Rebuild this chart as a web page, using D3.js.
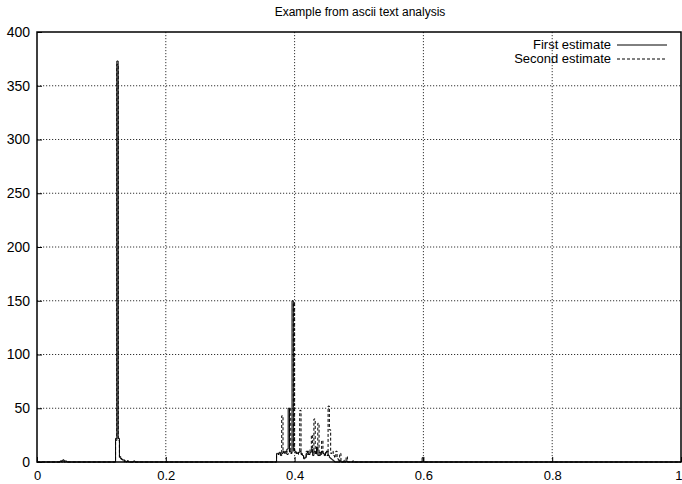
<!DOCTYPE html>
<html><head><meta charset="utf-8">
<script src="https://cdn.jsdelivr.net/npm/d3@7"></script>
<style>body{margin:0;background:#fff}svg{display:block}text{font-family:"Liberation Sans",Arial,sans-serif;fill:#000}</style>
</head><body><svg id="c" width="682" height="484"></svg>
<script>
const title = "Example from ascii text analysis";
const xTicks = [0, 0.2, 0.4, 0.6, 0.8, 1];
const xTickLabels = ["0", "0.2", "0.4", "0.6", "0.8", "1"];
const yTicks = [0, 50, 100, 150, 200, 250, 300, 350, 400];
const seriesNames = ["First estimate", "Second estimate"];
const binWidth = 0.002;
// bin left edges and counts
const firstX = [0.036,0.038,0.040,0.042,0.044,0.122,0.124,0.126,0.128,0.130,0.132,0.134,0.136,0.140,0.150,
  0.372,0.374,0.376,0.378,0.380,0.382,0.384,0.386,0.388,0.390,0.392,0.394,0.396,0.398,0.400,0.402,0.404,0.406,0.408,0.410,0.412,0.414,0.416,0.418,0.420,0.422,0.424,0.426,0.428,0.430,0.432,0.434,0.436,0.438,0.440,0.442,0.444,0.446,0.448,0.450,0.452,0.454,0.456,0.458,0.460,0.470,0.480,0.598];
const firstY = [1,1,2,1,1,22,373,22,5,3,2,2,1,1,1,
  8,8,9,7,8,10,9,8,12,50,10,9,150,12,10,9,8,9,10,7,6,3,4,8,10,7,9,12,6,10,8,14,6,9,7,10,8,6,9,10,6,4,3,2,1,1,1,4];
const secondX = [0.036,0.040,0.122,0.124,0.126,0.128,0.130,0.132,0.134,0.140,
  0.372,0.374,0.376,0.378,0.380,0.382,0.384,0.386,0.388,0.390,0.392,0.394,0.396,0.398,0.400,0.402,0.404,0.406,0.408,0.410,0.412,0.414,0.416,0.418,0.420,0.422,0.424,0.426,0.428,0.430,0.432,0.434,0.436,0.438,0.440,0.442,0.444,0.446,0.448,0.450,0.452,0.454,0.456,0.458,0.460,0.462,0.464,0.466,0.470,0.476,0.480,0.490];
const secondY = [1,1,20,370,20,4,3,2,1,1,
  6,7,8,6,43,9,8,10,7,9,50,8,10,148,9,8,7,9,48,8,6,4,5,10,7,8,12,25,9,40,7,10,36,6,9,20,8,7,10,6,52,30,8,10,6,4,10,3,8,2,5,1];

const svg = d3.select("#c");
const m = {l:37, r:681, t:32, b:462};
const x = d3.scaleLinear().domain([0,1]).range([m.l, m.r]);
const y = d3.scaleLinear().domain([0,400]).range([m.b, m.t]);

svg.append("text").attr("x", 360).attr("y", 16).attr("text-anchor","middle").attr("font-size", 12).text(title);

// grid
const g = svg.append("g");
yTicks.slice(1,-1).forEach(v => g.append("line").attr("x1", m.l).attr("x2", m.r).attr("y1", y(v)).attr("y2", y(v))
  .attr("stroke","#000").attr("stroke-width",0.8).attr("stroke-dasharray","1.2,1.8"));
xTicks.slice(1,-1).forEach(v => g.append("line").attr("y1", m.t).attr("y2", m.b).attr("x1", x(v)).attr("x2", x(v))
  .attr("stroke","#000").attr("stroke-width",0.8).attr("stroke-dasharray","1.2,1.8"));

// axes (ticks inward)
const yAxis = d3.axisLeft(y).tickValues(yTicks).tickSize(-5).tickPadding(8).tickFormat(d3.format("d"));
const ya = svg.append("g").attr("transform", `translate(${m.l},0)`).call(yAxis);
const xAxis = d3.axisBottom(x).tickValues(xTicks).tickSize(-5).tickPadding(10).tickFormat((d,i)=>xTickLabels[i]);
const xa = svg.append("g").attr("transform", `translate(0,${m.b})`).call(xAxis);
[ya, xa].forEach(a => { a.select(".domain").remove(); a.selectAll("text").attr("font-size", 14).attr("font-family","Liberation Sans, Arial, sans-serif"); a.selectAll("line").attr("stroke","#000"); });
xa.selectAll("text").attr("y", 18).attr("dy", 0).attr("font-size", 13)
  .filter(d => d === 1).attr("text-anchor", "end").attr("x", 1);
ya.selectAll("text").attr("x", -7);

// frame
svg.append("rect").attr("x", m.l).attr("y", m.t).attr("width", m.r-m.l).attr("height", m.b-m.t)
  .attr("fill","none").attr("stroke","#000").attr("stroke-width",1.5);

function stepPoints(xs, ys) {
  const pts = [[0,0]];
  for (let i=0;i<xs.length;i++) {
    const x0 = xs[i], x1 = x0 + binWidth;
    const last = pts[pts.length-1];
    if (last[0] < x0) pts.push([x0, 0]);
    pts.push([x0, ys[i]]);
    pts.push([x1, ys[i]]);
    if (i === xs.length-1 || xs[i+1] > x1 + 1e-9) pts.push([x1, 0]);
  }
  pts.push([1,0]);
  return pts;
}
const line = d3.line().x(d=>x(d[0])).y(d=>y(d[1]));
svg.append("path").attr("d", line(stepPoints(secondX, secondY))).attr("fill","none").attr("stroke","#000")
  .attr("stroke-width",1).attr("stroke-dasharray","3,2");
svg.append("path").attr("d", line(stepPoints(firstX, firstY))).attr("fill","none").attr("stroke","#000")
  .attr("stroke-width",1);

// legend
const leg = [{name: seriesNames[0], dash: null, y: 45}, {name: seriesNames[1], dash: "3,2", y: 59}];
leg.forEach(d => {
  svg.append("text").attr("x", 611).attr("y", d.y+4).attr("text-anchor","end").attr("font-size", 13).text(d.name);
  svg.append("line").attr("x1", 617).attr("x2", 667).attr("y1", d.y).attr("y2", d.y)
    .attr("stroke","#000").attr("stroke-width",1).attr("stroke-dasharray", d.dash);
});
</script></body></html>
